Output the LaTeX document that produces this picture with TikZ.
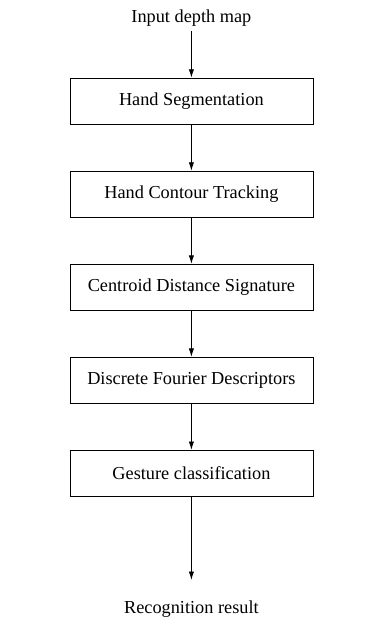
\documentclass[tikz,border=0pt]{standalone}
\usepackage{fontspec}
\setmainfont{Liberation Serif}
\usetikzlibrary{arrows.meta}
\begin{document}
\begin{tikzpicture}[
  font=\fontsize{11.8}{14}\selectfont,
  stage/.style={draw, line width=0.5pt, minimum width=5.51cm, minimum height=1.04cm, inner sep=0pt},
  term/.style={inner sep=3pt},
  flow/.style={-{Latex[length=1.9mm,width=1.2mm]}, line width=0.5pt}
]
\useasboundingbox (0,0) rectangle (8.68,-14.24);
\node[term] (in) at (4.34,-0.41) {Input depth map};
\node[stage] (b1) at (4.34,-2.29) {Hand Segmentation};
\node[stage] (b2) at (4.34,-4.40) {Hand Contour Tracking};
\node[stage] (b3) at (4.34,-6.51) {Centroid Distance Signature};
\node[stage] (b4) at (4.34,-8.62) {Discrete Fourier Descriptors};
\node[stage] (b5) at (4.34,-10.73) {Gesture classification};
\coordinate (end) at (4.34,-13.15);
\node[term] (out) at (4.34,-13.81) {Recognition result};
\draw[flow] (in) -- (b1);
\draw[flow] (b1) -- (b2);
\draw[flow] (b2) -- (b3);
\draw[flow] (b3) -- (b4);
\draw[flow] (b4) -- (b5);
\draw[flow] (b5) -- (end);
\end{tikzpicture}
\end{document}
